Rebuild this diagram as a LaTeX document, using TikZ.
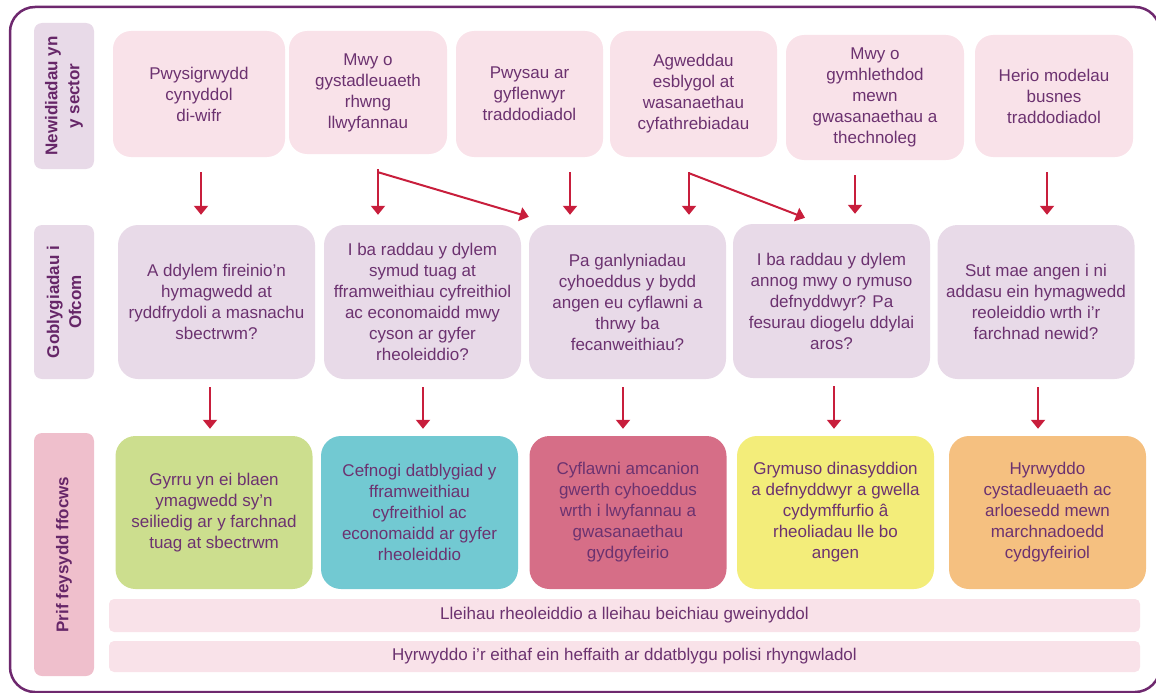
\documentclass[tikz,border=0pt]{standalone}
\usepackage{fontspec}
\setmainfont{Liberation Sans}
\usepackage{tikz}
\usetikzlibrary{arrows.meta,shapes}
\definecolor{framepurple}{RGB}{110,40,110}
\definecolor{textpurple}{RGB}{108,50,112}
\definecolor{labelpurple}{RGB}{102,38,104}
\definecolor{lilac}{RGB}{232,218,232}
\definecolor{blush}{RGB}{249,226,233}
\definecolor{rosepink}{RGB}{239,191,204}
\definecolor{arrowred}{RGB}{200,30,60}
\definecolor{focusgreen}{RGB}{204,222,142}
\definecolor{focusteal}{RGB}{114,201,210}
\definecolor{focusrose}{RGB}{214,110,135}
\definecolor{focusyellow}{RGB}{243,237,122}
\definecolor{focusorange}{RGB}{245,192,128}
\tikzstyle{box}=[rectangle,rounded corners=18pt,inner sep=2pt,align=center,text=textpurple,font=\fontsize{17}{21}\selectfont]
\tikzstyle{topbox}=[box,fill=blush]
\tikzstyle{midbox}=[box,fill=lilac,rounded corners=20pt,minimum width=197pt,minimum height=154pt]
\tikzstyle{focusbox}=[box,rounded corners=20pt,minimum width=197pt,minimum height=153pt]
\tikzstyle{bar}=[box,fill=blush,rounded corners=5pt,minimum width=1031pt]
\tikzstyle{sidelabel}=[rectangle,rounded corners=8pt,rotate=90,align=center,minimum height=60pt,text=labelpurple,font=\fontsize{17}{22}\selectfont\bfseries]
\tikzstyle{arrow}=[draw=arrowred,line width=2pt,-{Triangle[width=14pt,length=9pt]}]
\tikzstyle{frame}=[draw=framepurple,line width=2.5pt,rounded corners=25pt]

\begin{document}
\begin{tikzpicture}[x=1pt,y=-1pt]
    \useasboundingbox (0,0) rectangle (1156,693);
    \path[frame] (10,7) rectangle (1160,692);
    % Row labels on the left
    \node[sidelabel,fill=lilac,minimum width=146pt] (l1) at (64,96) {Newidiadau yn\\y sector};
    \node[sidelabel,fill=lilac,minimum width=154pt] (l2) at (64,302) {Goblygiadau i\\Ofcom};
    \node[sidelabel,fill=rosepink,minimum width=243pt] (l3) at (64,554.5) {Prif feysydd ffocws};
    % First the changes in the sector
    \foreach \pos/\name/\boxw/\boxh/\txt in {{(199,94)/t1/172/126/{Pwysigrwydd\\cynyddol\\di-wifr}},
        {(368,92.5)/t2/158/123/{Mwy o\\gystadleuaeth\\rhwng\\llwyfannau}},
        {(529.5,94)/t3/147/126/{Pwysau ar\\gyflenwyr\\traddodiadol}},
        {(693.5,94)/t4/167/126/{Agweddau\\esblygol at\\wasanaethau\\cyfathrebiadau}},
        {(875,97.5)/t5/178/125/{Mwy o\\gymhlethdod\\mewn\\gwasanaethau a\\thechnoleg}},
        {(1054,96)/t6/158/122/{Herio modelau\\busnes\\traddodiadol}}}
        \node[topbox,minimum width=\boxw pt,minimum height=\boxh pt] (\name) at \pos {\txt};
    % Then the questions for Ofcom
    \foreach \pos/\name/\txt in {{(216.5,302)/m1/{A ddylem fireinio'n\\hymagwedd at\\ryddfrydoli a masnachu\\sbectrwm?}},
        {(422.5,302)/m2/{I ba raddau y dylem\\symud tuag at\\fframweithiau cyfreithiol\\ac economaidd mwy\\cyson ar gyfer\\rheoleiddio?}},
        {(627.5,302)/m3/{Pa ganlyniadau\\cyhoeddus y bydd\\angen eu cyflawni a\\thrwy ba\\fecanweithiau?}},
        {(831.5,301)/m4/{I ba raddau y dylem\\annog mwy o rymuso\\defnyddwyr? Pa\\fesurau diogelu ddylai\\aros?}},
        {(1036,302)/m5/{Sut mae angen i ni\\addasu ein hymagwedd\\reoleiddio wrth i'r\\farchnad newid?}}}
        \node[midbox] (\name) at \pos {\txt};
    % Main areas of focus
    \foreach \pos/\name/\col/\txt in {{(214,512.5)/b1/focusgreen/{Gyrru yn ei blaen\\ymagwedd sy'n\\seiliedig ar y farchnad\\tuag at sbectrwm}},
        {(419.5,512.5)/b2/focusteal/{Cefnogi datblygiad y\\fframweithiau\\cyfreithiol ac\\economaidd ar gyfer\\rheoleiddio}},
        {(628,512.5)/b3/focusrose/{Cyflawni amcanion\\gwerth cyhoeddus\\wrth i lwyfannau a\\gwasanaethau\\gydgyfeirio}},
        {(835.5,512.5)/b4/focusyellow/{Grymuso dinasyddion\\a defnyddwyr a gwella\\cydymffurfio â\\rheoliadau lle bo\\angen}},
        {(1047.5,512.5)/b5/focusorange/{Hyrwyddo\\cystadleuaeth ac\\arloesedd mewn\\marchnadoedd\\cydgyfeiriol}}}
        \node[focusbox,fill=\col] (\name) at \pos {\txt};
    \node[bar,minimum height=33pt] (r1) at (624.5,615.5) {Lleihau rheoleiddio a lleihau beichiau gweinyddol};
    \node[bar,minimum height=31pt] (r2) at (624.5,656.5) {Hyrwyddo i'r eithaf ein heffaith ar ddatblygu polisi rhyngwladol};
    % Connect the rows with arrows
    \foreach \source/\dest/\xx in {t1/m1/201, t2/m2/378, t3/m3/570, t4/m3/689, t5/m4/855, t6/m5/1047}
        \path[arrow,shorten <=15pt,shorten >=10pt] (\source.south -| \xx,0) -- (\dest.north -| \xx,0);
    \path[arrow] ([xshift=10pt,yshift=-18pt]t2.south) -- ([yshift=8pt]m3.north west);
    \path[arrow] ([xshift=-4.5pt,yshift=-16pt]t4.south) -- ([xshift=-26.5pt,yshift=6pt]m4.north);
    \foreach \source/\dest/\xx in {m1/b1/210, m2/b2/423, m3/b3/623, m4/b4/834, m5/b5/1038}
        \path[arrow,shorten <=8pt,shorten >=7pt] (\source.south -| \xx,0) -- (\dest.north -| \xx,0);
\end{tikzpicture}
\end{document}
